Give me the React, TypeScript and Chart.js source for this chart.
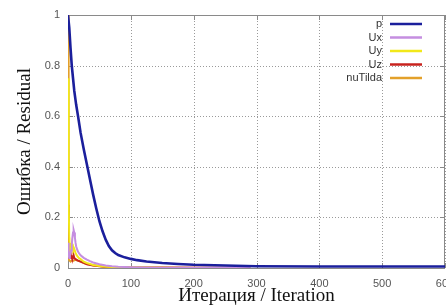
import React, { useEffect, useRef } from "react";
import { Chart, registerables } from "chart.js";

Chart.register(...registerables);

const seriesLabels = ["p", "Ux", "Uy", "Uz", "nuTilda"];
const seriesColors = ["#1b1f9c", "#c58ee0", "#f2e81a", "#c8231e", "#e3a02a"];
const seriesWidths = [2.6, 2, 2, 2, 2];

const pIter = [0, 2, 4, 6, 8, 10, 13, 16, 20, 25, 30, 35, 40, 45, 50, 55, 60, 65, 70, 75, 80, 90, 100, 110, 125, 150, 175, 200, 250, 300, 400, 500, 600];
const pVal = [1, 0.95, 0.87, 0.8, 0.75, 0.7, 0.645, 0.6, 0.535, 0.47, 0.41, 0.35, 0.29, 0.235, 0.185, 0.145, 0.112, 0.087, 0.07, 0.059, 0.051, 0.042, 0.036, 0.031, 0.026, 0.02, 0.016, 0.013, 0.01, 0.007, 0.006, 0.006, 0.006];

const uxIter = [0, 1, 2, 3, 4, 5, 6, 7, 8, 9, 10, 11, 12, 13, 15, 17, 20, 25, 30, 35, 40, 50, 60, 70, 80, 100, 120, 150, 200, 290];
const uxVal = [0.1, 0.05, 0.04, 0.05, 0.06, 0.07, 0.09, 0.12, 0.14, 0.15, 0.14, 0.12, 0.1, 0.085, 0.07, 0.06, 0.05, 0.04, 0.033, 0.027, 0.022, 0.015, 0.01, 0.007, 0.005, 0.003, 0.002, 0.001, 0.0005, 0];

const uyIter = [0, 1, 2, 3, 4, 5, 6, 7, 8, 9, 10, 12, 14, 17, 20, 25, 30, 40, 50, 60, 80, 100, 150, 200];
const uyVal = [0.75, 0.3, 0.1, 0.06, 0.07, 0.08, 0.09, 0.08, 0.085, 0.07, 0.075, 0.06, 0.05, 0.04, 0.035, 0.025, 0.02, 0.012, 0.008, 0.005, 0.003, 0.002, 0.001, 0];

const uzIter = [0, 1, 2, 3, 4, 5, 6, 7, 8, 9, 10, 12, 15, 20, 25, 30, 40, 50, 60, 80, 100, 150, 200, 290];
const uzVal = [0.25, 0.06, 0.04, 0.05, 0.06, 0.04, 0.05, 0.035, 0.045, 0.05, 0.04, 0.035, 0.03, 0.025, 0.02, 0.015, 0.01, 0.007, 0.004, 0.003, 0.002, 0.002, 0.001, 0.001];

const nuIter = [0, 1, 2, 4, 6, 8, 10, 12, 15, 20, 25, 30, 40, 50, 60, 80, 100, 150, 200, 290];
const nuVal = [1, 0.05, 0.03, 0.025, 0.03, 0.028, 0.03, 0.032, 0.03, 0.025, 0.02, 0.016, 0.011, 0.008, 0.005, 0.003, 0.002, 0.001, 0.001, 0];

const xTicks = [0, 100, 200, 300, 400, 500, 600];
const yTicks = [0, 0.2, 0.4, 0.6, 0.8, 1];
const yTickLabels = ["0", "0.2", "0.4", "0.6", "0.8", "1"];

const xTitle = "Итерация / Iteration";
const yTitle = "Ошибка / Residual";

const seriesIters = [pIter, uxIter, uyIter, uzIter, nuIter];
const seriesVals = [pVal, uxVal, uyVal, uzVal, nuVal];

const framePlugin = {
  id: "frameTicks",
  beforeDatasetsDraw(chart: any) {
    const { ctx, chartArea } = chart;
    const { left, right, top, bottom } = chartArea;
    const xs = chart.scales.x;
    const ys = chart.scales.y;
    ctx.save();
    ctx.strokeStyle = "#9a9a9a";
    ctx.lineWidth = 1;
    ctx.setLineDash([1, 2]);
    ctx.beginPath();
    xTicks.forEach((v) => {
      const px = Math.round(xs.getPixelForValue(v)) + 0.5;
      ctx.moveTo(px, top);
      ctx.lineTo(px, bottom);
    });
    yTicks.forEach((v) => {
      const py = Math.round(ys.getPixelForValue(v)) + 0.5;
      ctx.moveTo(left, py);
      ctx.lineTo(right, py);
    });
    ctx.stroke();
    ctx.setLineDash([]);
    ctx.strokeStyle = "#8a8a8a";
    ctx.beginPath();
    const tl = 5;
    xTicks.forEach((v) => {
      const px = Math.round(xs.getPixelForValue(v)) + 0.5;
      ctx.moveTo(px, bottom);
      ctx.lineTo(px, bottom - tl);
      ctx.moveTo(px, top);
      ctx.lineTo(px, top + tl);
    });
    yTicks.forEach((v) => {
      const py = Math.round(ys.getPixelForValue(v)) + 0.5;
      ctx.moveTo(left, py);
      ctx.lineTo(left + tl, py);
      ctx.moveTo(right, py);
      ctx.lineTo(right - tl, py);
    });
    ctx.stroke();
    ctx.strokeRect(Math.round(left) + 0.5, Math.round(top) + 0.5, Math.round(right - left) - 1, Math.round(bottom - top));
    ctx.restore();
  },
  afterDraw(chart: any) {
    const { ctx, chartArea } = chart;
    ctx.save();
    ctx.font = "11px 'Liberation Sans', Arial, sans-serif";
    ctx.textAlign = "right";
    ctx.textBaseline = "middle";
    chart.data.datasets.forEach((ds: any, i: number) => {
      const y = chartArea.top + 9 + i * 13.5;
      const lineEnd = chartArea.right - 23;
      const lineStart = lineEnd - 32;
      ctx.fillStyle = "#333";
      ctx.fillText(ds.label, lineStart - 8, y);
      ctx.strokeStyle = ds.borderColor;
      ctx.lineWidth = 2.5;
      ctx.beginPath();
      ctx.moveTo(lineStart, y);
      ctx.lineTo(lineEnd, y);
      ctx.stroke();
    });
    ctx.restore();
  },
};

export default function App() {
  const ref = useRef<HTMLCanvasElement>(null);
  useEffect(() => {
    if (!ref.current) return;
    const datasets = seriesLabels.map((label, i) => ({
      label,
      data: seriesIters[i].map((x, j) => ({ x, y: seriesVals[i][j] })),
      borderColor: seriesColors[i],
      backgroundColor: seriesColors[i],
      borderWidth: seriesWidths[i],
      pointRadius: 0,
      tension: 0,
      fill: false,
    }));
    const chart = new Chart(ref.current, {
      type: "line",
      data: { datasets },
      plugins: [framePlugin],
      options: {
        animation: false,
        responsive: false,
        layout: { padding: { top: 15, right: 1, left: 0, bottom: 0 } },
        plugins: { legend: { display: false }, tooltip: { enabled: false } },
        scales: {
          x: {
            type: "linear",
            min: 0,
            max: 600,
            afterBuildTicks: (s: any) => {
              s.ticks = xTicks.map((v) => ({ value: v }));
            },
            afterFit: (s: any) => {
              s.height = 38;
              s.paddingLeft = 0;
              s.paddingRight = 0;
            },
            grid: { display: false, drawTicks: false },
            border: { display: false },
            ticks: {
              padding: 9,
              maxRotation: 0,
              autoSkip: false,
              color: "#555",
              font: { family: "'Liberation Sans', Arial, sans-serif", size: 11 },
            },
            title: {
              display: true,
              text: xTitle,
              color: "#111",
              font: { family: "'Liberation Serif', 'Times New Roman', serif", size: 19, lineHeight: 1 },
              padding: { top: 0, bottom: 0 },
            },
          },
          y: {
            type: "linear",
            min: 0,
            max: 1,
            afterBuildTicks: (s: any) => {
              s.ticks = yTicks.map((v) => ({ value: v }));
            },
            afterFit: (s: any) => {
              s.width = 68;
              s.paddingTop = 0;
              s.paddingBottom = 0;
            },
            grid: { display: false, drawTicks: false },
            border: { display: false },
            ticks: {
              padding: 8,
              autoSkip: false,
              color: "#555",
              font: { family: "'Liberation Sans', Arial, sans-serif", size: 11 },
              callback: (v: any) => {
                const k = yTicks.indexOf(Number(v));
                return k >= 0 ? yTickLabels[k] : "";
              },
            },
            title: {
              display: true,
              text: yTitle,
              color: "#111",
              font: { family: "'Liberation Serif', 'Times New Roman', serif", size: 19, lineHeight: 1 },
              padding: { top: 16, bottom: 0 },
            },
          },
        },
      },
    } as any);
    return () => chart.destroy();
  }, []);
  return (
    <div style={{ position: "fixed", left: 0, top: 0, width: 446, height: 306, background: "#fff" }}>
      <canvas ref={ref} width={446} height={306} />
    </div>
  );
}
